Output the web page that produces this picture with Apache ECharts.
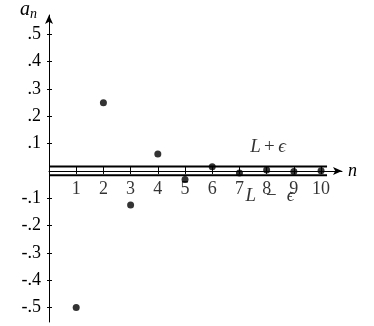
<!DOCTYPE html>
<html><head><meta charset="utf-8">
<script src="https://cdn.jsdelivr.net/npm/echarts@6/dist/echarts.min.js"></script>
<style>html,body{margin:0;padding:0;background:#fff}#c{width:374px;height:326px}</style>
</head><body><div id="c"></div>
<script>
const ns = [1, 2, 3, 4, 5, 6, 7, 8, 9, 10];
const an = [-0.5, 0.25, -0.125, 0.0625, -0.03125, 0.015625, -0.0078125, 0.00390625, -0.001953, 0.000977];
const yTicks = [-0.5, -0.4, -0.3, -0.2, -0.1, 0.1, 0.2, 0.3, 0.4, 0.5];
const eps = 0.016;
const bandEnd = 10.22;
const labelPlus = [8.05, 0.088];
const labelMinus = [8.12, -0.09];

const FONT = 'Liberation Serif';
const fmtY = v => (v < 0 ? '-' : '') + '.' + Math.round(Math.abs(v) * 10);
const baseX = {
  type: 'value', min: 0, max: 10.77, position: 'bottom', splitLine: { show: false }
};
const baseY = {
  type: 'value', min: -0.553, max: 0.571, position: 'left', splitLine: { show: false }
};
const chart = echarts.init(document.getElementById('c'), null, { renderer: 'canvas' });
chart.setOption({
  animation: false,
  grid: { left: 49, right: 32, top: 15, bottom: 4 },
  xAxis: [
    Object.assign({}, baseX, {
      name: 'n', nameLocation: 'end', nameGap: 6,
      nameTextStyle: { fontFamily: FONT, fontStyle: 'italic', fontSize: 18, color: '#000', verticalAlign: 'middle' },
      axisLine: { onZero: true, lineStyle: { color: '#000', width: 1 }, symbol: ['none', 'arrow'], symbolSize: [6, 9] },
      axisTick: { customValues: ns, length: 3, lineStyle: { color: '#000' } },
      axisLabel: { show: false }
    }),
    Object.assign({}, baseX, {
      axisLine: { show: false, onZero: true },
      axisTick: { customValues: ns, length: 4, inside: true, lineStyle: { color: '#000' } },
      axisLabel: { show: false }
    })
  ],
  yAxis: [
    Object.assign({}, baseY, {
      axisLine: { onZero: true, lineStyle: { color: '#000', width: 1 }, symbol: ['none', 'arrow'], symbolSize: [6, 9] },
      axisTick: { customValues: yTicks, length: 2, lineStyle: { color: '#000' } },
      axisLabel: { customValues: yTicks, formatter: fmtY, margin: 8, fontFamily: FONT, fontSize: 18, color: '#000' }
    }),
    Object.assign({}, baseY, {
      axisLine: { show: false, onZero: true },
      axisTick: { customValues: yTicks, length: 3, inside: true, lineStyle: { color: '#000' } },
      axisLabel: { show: false }
    })
  ],
  graphic: [{
    type: 'text', left: 20, top: 0,
    style: {
      text: '{a|a}{s|n}', fill: '#000',
      rich: {
        a: { fontFamily: FONT, fontStyle: 'italic', fontSize: 20, fill: '#000' },
        s: { fontFamily: FONT, fontStyle: 'italic', fontSize: 14, fill: '#000', verticalAlign: 'bottom', padding: [8, 0, 0, 0] }
      }
    }
  }],
  series: [
    { type: 'line', data: [[0, eps], [bandEnd, eps]], symbol: 'none', lineStyle: { color: '#000', width: 2 }, z: 3 },
    { type: 'line', data: [[0, -eps], [bandEnd, -eps]], symbol: 'none', lineStyle: { color: '#000', width: 2 }, z: 3 },
    {
      type: 'scatter', data: ns.map(n => [n, 0]), symbolSize: 0, silent: true,
      label: {
        show: true, position: 'bottom', distance: 9, formatter: p => String(p.value[0]),
        fontFamily: FONT, fontSize: 18, color: '#000'
      }, z: 2
    },
    {
      type: 'scatter', data: ns.map((n, i) => [n, an[i]]), symbol: 'circle', symbolSize: 7,
      itemStyle: { color: '#000' }, z: 5
    },
    {
      type: 'scatter', symbolSize: 0, silent: true,
      data: [
        { value: labelPlus, label: { formatter: '{i|L} {r|+} {i|ϵ}' } },
        { value: labelMinus, label: { formatter: '{i|L}   {r|−}   {i|ϵ}' } }
      ],
      label: {
        show: true, position: 'inside', color: '#000',
        rich: {
          i: { fontFamily: FONT, fontStyle: 'italic', fontSize: 19, color: '#000' },
          r: { fontFamily: FONT, fontSize: 19, color: '#000' }
        }
      }
    }
  ]
});
</script></body></html>
